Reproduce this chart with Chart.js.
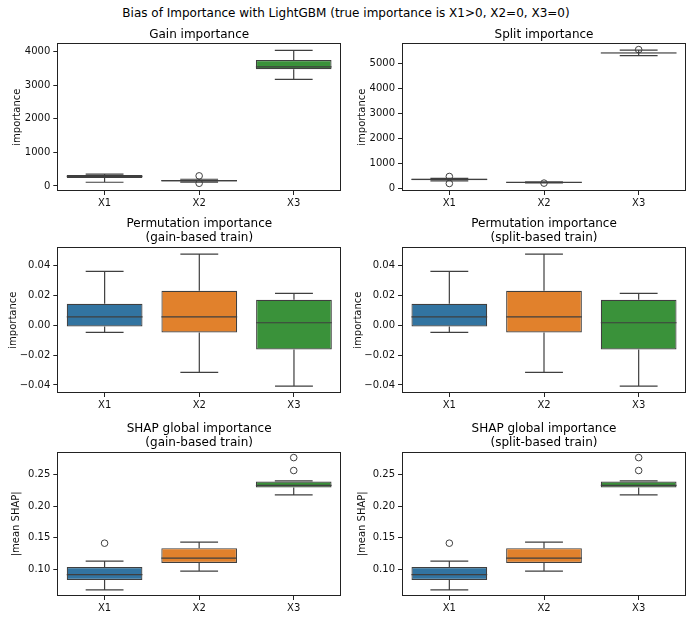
<!DOCTYPE html>
<html lang="en">
<head>
    <meta charset="UTF-8">
    <title>Bias of Importance with LightGBM</title>
    <style>
        body {
            margin: 0;
            background: #ffffff;
            font-family: "DejaVu Sans", sans-serif;
        }
        .fig {
            position: relative;
            width: 692px;
            height: 620px;
            background: #ffffff;
        }
        .suptitle {
            position: absolute;
            left: 0;
            top: 6px;
            width: 692px;
            text-align: center;
            font-size: 12px;
            line-height: 14px;
            color: #000;
        }
        canvas {
            position: absolute;
        }
    </style>
</head>
<body>
<div class="fig">
    <div class="suptitle">Bias of Importance with LightGBM (true importance is X1&gt;0, X2=0, X3=0)</div>
    <canvas id="gain"></canvas>
    <canvas id="split"></canvas>
    <canvas id="permGain"></canvas>
    <canvas id="permSplit"></canvas>
    <canvas id="shapGain"></canvas>
    <canvas id="shapSplit"></canvas>
</div>

<script src="https://cdn.jsdelivr.net/npm/chart.js"></script>
<script>
    const categories = ['X1', 'X2', 'X3'];

    // Gain importance
    const gainLow = [110, 115, 3170];
    const gainQ1 = [235, 135, 3470];
    const gainMedian = [285, 158, 3540];
    const gainQ3 = [325, 180, 3745];
    const gainHigh = [350, 200, 4030];
    const gainOutliers = [[], [300, 80], []];
    const gainTicks = [0, 1000, 2000, 3000, 4000];

    // Split importance
    const splitLow = [300, 225, 5300];
    const splitQ1 = [330, 238, 5390];
    const splitMedian = [365, 245, 5405];
    const splitQ3 = [390, 252, 5420];
    const splitHigh = [400, 262, 5520];
    const splitOutliers = [[480, 200], [215], [5540]];
    const splitTicks = [0, 1000, 2000, 3000, 4000, 5000];

    // Permutation importance (same for both trainings)
    const permLow = [-0.0047, -0.0316, -0.0408];
    const permQ1 = [-0.0007, -0.0047, -0.0161];
    const permMedian = [0.0058, 0.0058, 0.0018];
    const permQ3 = [0.0145, 0.0233, 0.0172];
    const permHigh = [0.0363, 0.0479, 0.0215];
    const permOutliers = [[], [], []];
    const permTicks = [-0.04, -0.02, 0, 0.02, 0.04];

    // SHAP global importance (same for both trainings)
    const shapLow = [0.0668, 0.0968, 0.2177];
    const shapQ1 = [0.0826, 0.1095, 0.2295];
    const shapMedian = [0.091, 0.1174, 0.2327];
    const shapQ3 = [0.1032, 0.1331, 0.239];
    const shapHigh = [0.1126, 0.1426, 0.240];
    const shapOutliers = [[0.141], [], [0.2563, 0.2768]];
    const shapTicks = [0.10, 0.15, 0.20, 0.25];

    const boxColors = ['#3274a1', '#e1812c', '#3a923a'];
    const lineColor = '#3f3f3f';
    const spineColor = '#222222';
    const textColor = '#111111';
    const fontFamily = '"DejaVu Sans", sans-serif';

    const intFmt = v => String(Math.round(v));
    const decFmt = v => (Math.abs(v) < 1e-9 ? 0 : v).toFixed(2).replace('-', '\u2212');

    // whiskers, caps, medians and the axes frame
    const boxPlugin = {
        id: 'boxParts',
        afterDatasetsDraw(chart) {
            const ds = chart.data.datasets[0];
            const meta = chart.getDatasetMeta(0);
            const ys = chart.scales.y;
            const ctx = chart.ctx;
            ctx.save();
            ctx.strokeStyle = lineColor;
            ctx.lineWidth = 1.2;
            meta.data.forEach((bar, i) => {
                const x = bar.x;
                const w = bar.width;
                const yLo = ys.getPixelForValue(ds.stats.low[i]);
                const yQ1 = ys.getPixelForValue(ds.stats.q1[i]);
                const yQ3 = ys.getPixelForValue(ds.stats.q3[i]);
                const yHi = ys.getPixelForValue(ds.stats.high[i]);
                const yMed = ys.getPixelForValue(ds.stats.median[i]);
                ctx.beginPath();
                ctx.moveTo(x, yQ3); ctx.lineTo(x, yHi);
                ctx.moveTo(x, yQ1); ctx.lineTo(x, yLo);
                ctx.moveTo(x - w / 4, yHi); ctx.lineTo(x + w / 4, yHi);
                ctx.moveTo(x - w / 4, yLo); ctx.lineTo(x + w / 4, yLo);
                ctx.moveTo(x - w / 2, yMed); ctx.lineTo(x + w / 2, yMed);
                ctx.stroke();
            });
            const a = chart.chartArea;
            ctx.strokeStyle = spineColor;
            ctx.lineWidth = 1;
            ctx.strokeRect(Math.round(a.left) + 0.5, Math.round(a.top) + 0.5,
                Math.round(a.right - a.left) - 1, Math.round(a.bottom - a.top) - 1);
            ctx.restore();
        }
    };

    function makePanel(id, p) {
        const canvas = document.getElementById(id);
        canvas.width = 346;
        canvas.height = p.height;
        canvas.style.left = p.left + 'px';
        canvas.style.top = p.top + 'px';

        const points = [];
        p.outliers.forEach((list, i) => list.forEach(v => points.push({ x: categories[i], y: v })));

        return new Chart(canvas, {
            type: 'bar',
            data: {
                labels: categories,
                datasets: [{
                    type: 'bar',
                    data: categories.map((c, i) => [p.q1[i], p.q3[i]]),
                    stats: { low: p.low, q1: p.q1, median: p.median, q3: p.q3, high: p.high },
                    backgroundColor: boxColors,
                    borderColor: lineColor,
                    borderWidth: 1.2,
                    borderSkipped: false,
                    barPercentage: 0.8,
                    categoryPercentage: 1
                }, {
                    type: 'scatter',
                    data: points,
                    pointStyle: 'circle',
                    radius: 3.3,
                    borderColor: lineColor,
                    backgroundColor: 'rgba(0,0,0,0)',
                    borderWidth: 1
                }]
            },
            options: {
                responsive: false,
                animation: false,
                events: [],
                layout: { padding: { left: 0, right: p.padRight, top: 0, bottom: 0 } },
                plugins: {
                    legend: { display: false },
                    tooltip: { enabled: false },
                    title: {
                        display: true,
                        fullSize: false,
                        text: p.title,
                        color: '#000',
                        font: { family: fontFamily, size: 12, weight: 'normal', lineHeight: 1.17 },
                        padding: { top: p.titleTop, bottom: p.titleBottom }
                    }
                },
                scales: {
                    x: {
                        type: 'category',
                        offset: true,
                        grid: { drawOnChartArea: false, drawTicks: true, tickLength: 4, offset: false, color: spineColor },
                        border: { display: false },
                        ticks: { color: textColor, font: { family: fontFamily, size: 10 }, padding: 2, maxRotation: 0 },
                        afterFit: s => { s.height = 22; }
                    },
                    y: {
                        type: 'linear',
                        min: p.yMin,
                        max: p.yMax,
                        afterBuildTicks: s => { s.ticks = p.ticks.map(v => ({ value: v })); },
                        grid: { drawOnChartArea: false, drawTicks: true, tickLength: 4, color: spineColor },
                        border: { display: false },
                        ticks: { color: textColor, font: { family: fontFamily, size: 10 }, padding: 3, callback: p.fmt },
                        title: {
                            display: true,
                            text: p.yLabel,
                            color: textColor,
                            font: { family: fontFamily, size: 10, lineHeight: 1.2 },
                            padding: { top: p.yTitlePad, bottom: 0 }
                        },
                        afterFit: s => { s.width = p.axisWidth; }
                    }
                }
            },
            plugins: [boxPlugin]
        });
    }

    const leftCol = { left: 0, padRight: 4.7, axisWidth: 57.3 };
    const rightCol = { left: 346, padRight: 6, axisWidth: 56 };
    const row1 = { top: 20, height: 193, titleTop: 7.9, titleBottom: 1.4 };
    const row2 = { top: 205, height: 210, titleTop: 12.2, titleBottom: 2 };
    const row3 = { top: 410, height: 208, titleTop: 11.8, titleBottom: 1.8 };

    const gainStats = { low: gainLow, q1: gainQ1, median: gainMedian, q3: gainQ3, high: gainHigh, outliers: gainOutliers };
    const splitStats = { low: splitLow, q1: splitQ1, median: splitMedian, q3: splitQ3, high: splitHigh, outliers: splitOutliers };
    const permStats = { low: permLow, q1: permQ1, median: permMedian, q3: permQ3, high: permHigh, outliers: permOutliers };
    const shapStats = { low: shapLow, q1: shapQ1, median: shapMedian, q3: shapQ3, high: shapHigh, outliers: shapOutliers };

    makePanel('gain', Object.assign({}, leftCol, row1, gainStats, {
        title: 'Gain importance', yLabel: 'importance', yTitlePad: 11.2,
        yMin: -150, yMax: 4240, ticks: gainTicks, fmt: intFmt
    }));
    makePanel('split', Object.assign({}, rightCol, row1, splitStats, {
        title: 'Split importance', yLabel: 'importance', yTitlePad: 10.5,
        yMin: -100, yMax: 5790, ticks: splitTicks, fmt: intFmt
    }));
    makePanel('permGain', Object.assign({}, leftCol, row2, permStats, {
        title: ['Permutation importance', '(gain-based train)'], yLabel: 'importance', yTitlePad: 7.2,
        yMin: -0.0454, yMax: 0.0525, ticks: permTicks, fmt: decFmt
    }));
    makePanel('permSplit', Object.assign({}, rightCol, row2, permStats, {
        title: ['Permutation importance', '(split-based train)'], yLabel: 'importance', yTitlePad: 6.5,
        yMin: -0.0454, yMax: 0.0525, ticks: permTicks, fmt: decFmt
    }));
    makePanel('shapGain', Object.assign({}, leftCol, row3, shapStats, {
        title: ['SHAP global importance', '(gain-based train)'], yLabel: '|mean SHAP|', yTitlePad: 10.5,
        yMin: 0.0572, yMax: 0.2862, ticks: shapTicks, fmt: decFmt
    }));
    makePanel('shapSplit', Object.assign({}, rightCol, row3, shapStats, {
        title: ['SHAP global importance', '(split-based train)'], yLabel: '|mean SHAP|', yTitlePad: 10.5,
        yMin: 0.0572, yMax: 0.2862, ticks: shapTicks, fmt: decFmt
    }));
</script>
</body>
</html>
